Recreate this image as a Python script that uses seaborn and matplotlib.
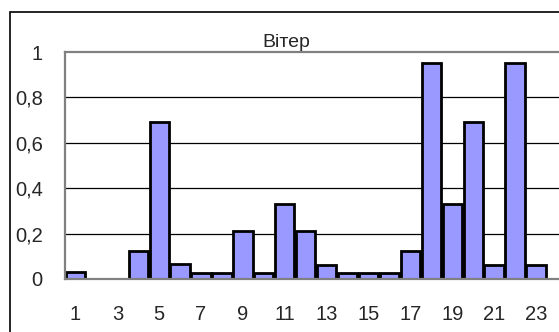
import matplotlib
matplotlib.use('Agg')
import matplotlib.pyplot as plt
import seaborn as sns
import pandas as pd
from matplotlib.patches import Rectangle

# Data
hours = list(range(1, 24))
wind = [0.03, 0.0, 0.0, 0.125, 0.69, 0.065, 0.025, 0.025, 0.21, 0.025, 0.33, 0.21,
        0.063, 0.028, 0.028, 0.028, 0.123, 0.95, 0.33, 0.69, 0.063, 0.95, 0.063]
ytick_vals = [0, 0.2, 0.4, 0.6, 0.8, 1]
ytick_labels = ['0', '0,2', '0,4', '0,6', '0,8', '1']
title = 'Вітер'

sns.set_style('white')
plt.rcParams['font.family'] = ['Liberation Sans', 'DejaVu Sans']

df = pd.DataFrame({'hour': [str(h) for h in hours], 'wind': wind})

W, H = 559, 332
fig = plt.figure(figsize=(W / 100, H / 100), dpi=100)
ax = fig.add_axes([65 / W, 1 - 279 / H, (W - 65) / W, (279 - 52) / H])

sns.barplot(data=df, x='hour', y='wind', color='#9999FF', saturation=1,
            edgecolor='black', linewidth=2, width=0.92, ax=ax)

ax.set_ylim(0, 1)
ax.set_xlim(-0.5, 23.1)

# horizontal gridlines
for v in ytick_vals[1:-1]:
    ax.axhline(v, color='black', lw=0.9, zorder=0)

ax.set_yticks(ytick_vals, labels=ytick_labels)
ax.set_xticks(range(len(hours)), labels=[str(h) if h % 2 else '' for h in hours])
ax.set_xticks([i - 0.5 for i in range(len(hours) + 1)], minor=True)
ax.tick_params(axis='x', which='major', length=0, pad=19, labelsize=14.5)
ax.tick_params(axis='x', which='minor', length=7, width=0.9, color='#333333', direction='out')
ax.tick_params(axis='y', length=6, width=1.2, color='#808080', direction='out', pad=10, labelsize=14.5)
ax.set_xlabel('')
ax.set_ylabel('')

for side in ['left', 'bottom', 'top']:
    ax.spines[side].set_color('#808080')
    ax.spines[side].set_linewidth(1.6)
ax.spines['right'].set_visible(False)

fig.text(286 / W, 1 - 47 / H, title, ha='center', va='baseline', fontsize=14)

# chart border (runs off the right and bottom edges)
fig.patches.append(Rectangle((10 / W, -0.1), 1.2, 1 - 12 / H + 0.1,
                             transform=fig.transFigure, fill=False,
                             edgecolor='black', lw=1.2))

fig.savefig('out.png', dpi=100)
